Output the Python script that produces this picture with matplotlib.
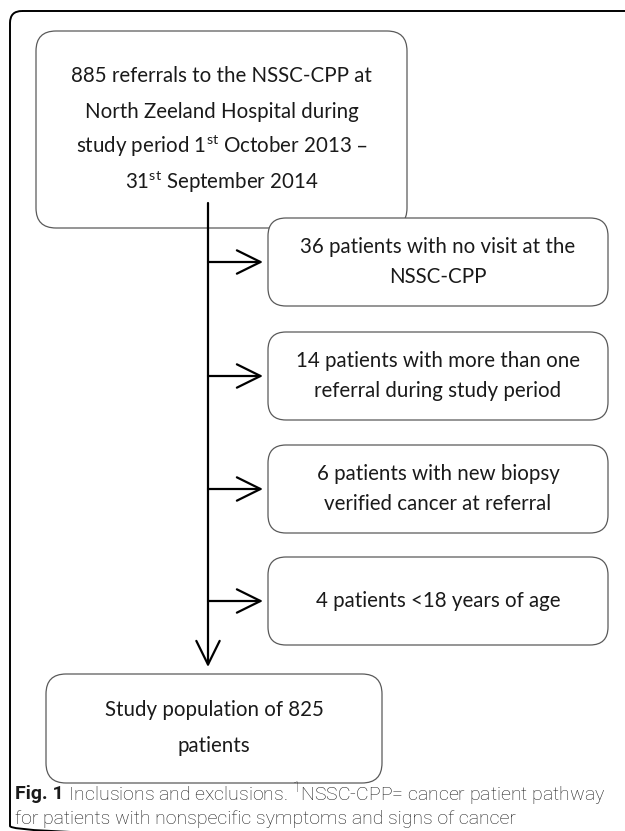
import matplotlib.pyplot as plt
from matplotlib.patches import FancyBboxPatch

# flowchart content (one entry per printed line)
start_lines = [
    "885 referrals to the NSSC-CPP at",
    "North Zeeland Hospital during",
    "study period 1$^{\\mathregular{st}}$ October 2013 \u2013",
    "31$^{\\mathregular{st}}$ September 2014",
]
exclusions = [
    ["36 patients with no visit at the", "NSSC-CPP"],
    ["14 patients with more than one", "referral during study period"],
    ["6 patients with new biopsy", "verified cancer at referral"],
    ["4 patients <18 years of age"],
]
final_lines = ["Study population of 825", "patients"]
caption_bold = "Fig. 1"
caption_rest = " Inclusions and exclusions. $^{\\mathregular{1}}$NSSC-CPP= cancer patient pathway"
caption_line2 = "for patients with nonspecific symptoms and signs of cancer"

BOX_FONT = "Lato"
CAP_FONT = "Roboto"
EDGE = "#5a5a5a"
TXT = "#1a1a1a"

fig = plt.figure(figsize=(6.25, 8.31), dpi=100)
ax = fig.add_axes([0, 0, 1, 1])
ax.set_xlim(0, 625)
ax.set_ylim(831, 0)
ax.axis("off")


def box(x0, y0, x1, y1, lines, step, r=20):
    ax.add_patch(FancyBboxPatch((x0, y0), x1 - x0, y1 - y0,
                                boxstyle=f"round,pad=0,rounding_size={r}",
                                fc="white", ec=EDGE, lw=0.9))
    cx, cy = (x0 + x1) / 2, (y0 + y1) / 2
    first = cy - step * (len(lines) - 1) / 2
    for i, line in enumerate(lines):
        # baseline placement keeps superscripts from shifting lines
        ax.text(cx, first + i * step + 6, line, ha="center", va="baseline",
                fontsize=14.8, family=BOX_FONT, color=TXT)


def arrow(x0, y0, x1, y1):
    ax.annotate("", xy=(x1, y1), xytext=(x0, y0),
                arrowprops=dict(arrowstyle="->,head_length=0.85,head_width=0.42",
                                lw=1.6, color="black", mutation_scale=20,
                                shrinkA=0, shrinkB=0))


# outer frame (right and bottom edges run off the image)
ax.add_patch(FancyBboxPatch((10, 11), 700, 827,
                            boxstyle="round,pad=0,rounding_size=12",
                            fc="none", ec="black", lw=1.4))

box(36, 31, 407, 228, start_lines, step=35.7)

# main vertical flow
trunk_x = 208
arrow(trunk_x, 203, trunk_x, 667)

ex_top = [218, 332, 445, 557]
ex_h = 88
for top, lines in zip(ex_top, exclusions):
    box(268, top, 608, top + ex_h, lines, step=30, r=18)
    arrow(trunk_x, top + ex_h / 2, 263, top + ex_h / 2)

box(46, 674, 382, 783, final_lines, step=36)

# caption
cap_kw = dict(fontsize=14, family=CAP_FONT, va="center", ha="left", color=TXT)
t = ax.text(15, 794, caption_bold, fontweight="bold", **cap_kw)
fig.canvas.draw()
bb = t.get_window_extent()
x_next = ax.transData.inverted().transform((bb.x1, bb.y0))[0]
ax.text(x_next, 794, caption_rest, fontweight="light", **cap_kw)
ax.text(15, 819, caption_line2, fontweight="light", **cap_kw)

fig.savefig("out.png", dpi=100, facecolor="white")
